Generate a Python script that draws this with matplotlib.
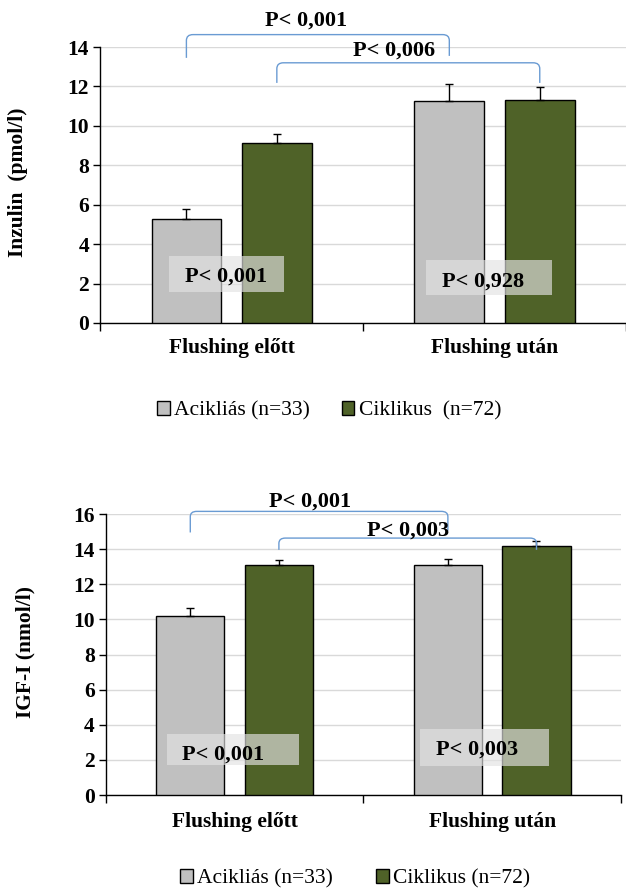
import matplotlib
matplotlib.use("Agg")
import matplotlib.pyplot as plt
from matplotlib.path import Path
from matplotlib.patches import PathPatch, Rectangle
import numpy as np

plt.rcParams['font.family'] = ['Liberation Serif', 'DejaVu Serif']

categories = ["Flushing előtt", "Flushing után"]
series_names = ["Acikliás (n=33)", "Ciklikus  (n=72)"]
series_names2 = ["Acikliás (n=33)", "Ciklikus (n=72)"]

ins_acik = [5.3, 11.25]
ins_cikl = [9.12, 11.33]
ins_acik_err = [0.48, 0.85]
ins_cikl_err = [0.47, 0.62]

igf_acik = [10.2, 13.1]
igf_cikl = [13.1, 14.2]
igf_acik_err = [0.46, 0.35]
igf_cikl_err = [0.27, 0.27]

ins_within_p = ["P< 0,001", "P< 0,928"]
ins_between_p = ["P< 0,001", "P< 0,006"]
igf_within_p = ["P< 0,001", "P< 0,003"]
igf_between_p = ["P< 0,001", "P< 0,003"]

GRAY = "#C0C0C0"
GREEN = "#4F6228"
BLUE = "#6A9BD3"

W = 0.265
OFF = 0.172
FS = 15.5
PFS = 16


def bracket(ax, x1, x2, y, yl1, yl2, rx=0.025, ry=0.25):
    verts = [(x1, yl1), (x1, y - ry), (x1, y), (x1 + rx, y),
             (x2 - rx, y), (x2, y), (x2, y - ry), (x2, yl2)]
    codes = [Path.MOVETO, Path.LINETO, Path.CURVE3, Path.CURVE3,
             Path.LINETO, Path.CURVE3, Path.CURVE3, Path.LINETO]
    ax.add_patch(PathPatch(Path(verts, codes), fill=False, edgecolor=BLUE,
                           lw=1.0, clip_on=False, zorder=5))


def draw(ax, acik, cikl, aerr, cerr, ymax, ylabel, within, between, geo):
    x = np.arange(len(categories))
    ekw = dict(ecolor="black", elinewidth=1.0, capsize=3, capthick=1.0)
    ax.bar(x - OFF, acik, W, color=GRAY, edgecolor="black", linewidth=1.0,
           yerr=[np.zeros(2), aerr], error_kw=ekw, label="a", zorder=3)
    ax.bar(x + OFF, cikl, W, color=GREEN, edgecolor="black", linewidth=1.0,
           yerr=[np.zeros(2), cerr], error_kw=ekw, label="c", zorder=3)
    ax.set_xlim(-0.5, 1.5)
    ax.set_ylim(0, ymax)
    ax.set_yticks(np.arange(0, ymax + 0.1, 2))
    ax.yaxis.grid(True, color="#D9D9D9", lw=1.0, zorder=0)
    ax.set_axisbelow(True)
    for s in ["top", "right"]:
        ax.spines[s].set_visible(False)
    for s in ["left", "bottom"]:
        ax.spines[s].set_color("black")
        ax.spines[s].set_linewidth(1.0)
    ax.set_xticks([-0.5, 0.5, 1.5])
    ax.set_xticklabels([])
    ax.set_xticks(x, minor=True)
    ax.set_xticklabels(categories, minor=True, fontsize=FS, fontweight="bold")
    ax.tick_params(axis="x", which="major", length=6, direction="out", width=1.0)
    ax.tick_params(axis="x", which="minor", length=0, pad=geo["xpad"])
    ax.tick_params(axis="y", length=5, width=1.0, labelsize=FS, pad=3)
    for t in ax.get_yticklabels():
        t.set_fontweight("bold")
    ax.set_ylabel(ylabel, fontsize=FS, fontweight="bold")
    ax.yaxis.set_label_coords(geo["ylab_x"], 0.51)

    # within-time p boxes
    for i in range(2):
        bx0, bx1, by0, by1, tx, ty = geo["boxes"][i]
        ax.add_patch(Rectangle((bx0, by0), bx1 - bx0, by1 - by0, facecolor="#E3E3E3",
                               alpha=0.65, edgecolor="none", zorder=4))
        ax.text(tx, ty, within[i], ha="center", va="center",
                fontsize=PFS, fontweight="bold", zorder=6)

    # between-time brackets
    (y1, l1a, l1b, t1x, t1y), (y2, l2a, l2b, t2x, t2y) = geo["brackets"]
    bracket(ax, 0 - OFF, 1 - OFF, y1, l1a, l1b, ry=geo["ry"])
    ax.text(t1x, t1y, between[0], ha="center", va="center", fontsize=PFS, fontweight="bold",
            zorder=6, clip_on=False)
    bracket(ax, 0 + OFF, 1 + OFF, y2, l2a, l2b, ry=geo["ry"])
    ax.text(t2x, t2y, between[1], ha="center", va="center", fontsize=PFS, fontweight="bold",
            zorder=6, clip_on=False)


fig = plt.figure(figsize=(6.26, 8.89), dpi=100)

ax1 = fig.add_axes([0.160, 0.6367, 0.840, 0.3104])
geo1 = dict(
    xpad=11, ylab_x=-0.137,
    boxes=[(-0.238, 0.198, 1.57, 3.38, -0.022, 2.37),
           (0.741, 1.219, 1.44, 3.21, 0.957, 2.1)],
    brackets=[(14.63, 13.45, 13.55, 0.282, 15.36), (13.2, 12.18, 12.18, 0.616, 13.8)],
    ry=0.3,
)
draw(ax1, ins_acik, ins_cikl, ins_acik_err, ins_cikl_err, 14, "Inzulin  (pmol/l)",
     ins_within_p, ins_between_p, geo1)

ax2 = fig.add_axes([0.169, 0.1057, 0.823, 0.3161])
geo2 = dict(
    xpad=12, ylab_x=-0.136,
    boxes=[(-0.263, 0.25, 1.73, 3.49, -0.046, 2.3),
           (0.719, 1.22, 1.66, 3.75, 0.941, 2.57)],
    brackets=[(16.15, 14.95, 15.05, 0.292, 16.69), (14.63, 13.96, 13.96, 0.673, 15.07)],
    ry=0.3,
)
draw(ax2, igf_acik, igf_cikl, igf_acik_err, igf_cikl_err, 16, "IGF-I (nmol/l)",
     igf_within_p, igf_between_p, geo2)

h1, _ = ax1.get_legend_handles_labels()
fig.legend(h1, series_names, loc="center", bbox_to_anchor=(0.526, 1 - 411 / 889), ncol=2,
           frameon=False, prop=dict(family="Liberation Serif", size=FS), handlelength=0.6,
           handleheight=0.6, handletextpad=0.2, columnspacing=1.45)
h2, _ = ax2.get_legend_handles_labels()
fig.legend(h2, series_names2, loc="center", bbox_to_anchor=(0.567, 1 - 879 / 889), ncol=2,
           frameon=False, prop=dict(family="Liberation Serif", size=FS), handlelength=0.6,
           handleheight=0.6, handletextpad=0.2, columnspacing=2.0)

fig.savefig("out.png", dpi=100, facecolor="white")
